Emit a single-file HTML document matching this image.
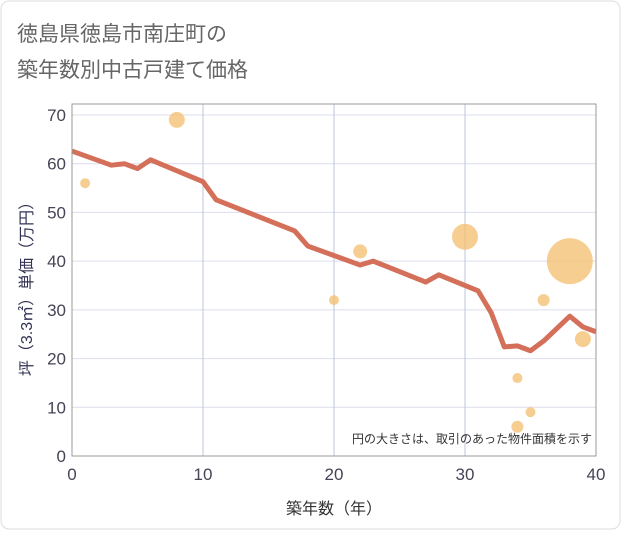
<!DOCTYPE html>
<html><head><meta charset="utf-8"><style>
body{margin:0;background:#fff;}
svg text{font-family:"Liberation Sans","Noto Sans CJK JP",sans-serif;}
</style></head><body>
<svg width="621" height="530">
<rect x="1" y="1" width="619" height="528" rx="8" fill="#fff" stroke="#ddd"/>
<text x="17" y="41" font-size="21" fill="#666">徳島県徳島市南庄町の</text>
<text x="17" y="77" font-size="21" fill="#666">築年数別中古戸建て価格</text>
<g id="plot"></g>
<text x="334" y="514" font-size="16" fill="#333" text-anchor="middle">築年数（年）</text>
<text transform="translate(32,285) rotate(-90)" font-size="16" fill="#335" text-anchor="middle">坪（3.3㎡）単価（万円）</text>
<text x="592" y="443" font-size="12" fill="#333" text-anchor="end">円の大きさは、取引のあった物件面積を示す</text>
</svg>
<script>
const xTicks=[0,10,20,30,40];
const yTicks=[0,10,20,30,40,50,60,70];
const lineX=[0,3,4,5,6,10,11,17,18,22,23,27,28,31,32,33,34,35,36,38,39,40];
const lineY=[62.6,59.7,60,59,60.8,56.3,52.6,46.2,43.1,39.2,40,35.7,37.2,33.9,29.4,22.4,22.6,21.6,23.6,28.7,26.5,25.5];
const bubX=[1,8,20,22,30,34,34,35,36,38,39];
const bubY=[56,69,32,42,45,16,6,9,32,40,24];
const bubR=[5,8,5,7,13,5,6,5,6,23,8];
const L=72,R=596,T=104,B=456;
const sx=v=>L+(v-0)/40*(R-L);
const sy=v=>B-v/70*(B-115);
const NS='http://www.w3.org/2000/svg';
const g=document.getElementById('plot');
function mk(t,a){const e=document.createElementNS(NS,t);for(const k in a)e.setAttribute(k,a[k]);g.appendChild(e);return e;}
let bg=mk('rect',{x:L,y:T,width:R-L,height:B-T,fill:'#fff',stroke:'#999'});


yTicks.forEach(v=>{
 let l=mk('line',{x1:L,x2:R,y1:sy(v),y2:sy(v),stroke:'#dde'});
 
 
 let t=mk('text',{x:L-6,y:sy(v)+6,'font-size':17,fill:'#445','text-anchor':'end'});t.textContent=v;
 
 
});
xTicks.forEach(v=>{
 let l=mk('line',{x1:sx(v),x2:sx(v),y1:T,y2:B,stroke:'#bcc5d5'});
 
 
 let t=mk('text',{x:sx(v),y:B+24,'font-size':17,fill:'#445','text-anchor':'middle'});t.textContent=v;
 
 
});
bubX.forEach((v,i)=>{
 let c=mk('circle',{cx:sx(v),cy:sy(bubY[i]),r:bubR[i],fill:'rgba(244,190,110,0.75)'});
 
 
});
let p=mk('polyline',{points:lineX.map((v,i)=>sx(v)+','+sy(lineY[i])).join(' '),fill:'none',stroke:'#d4705a','stroke-width':5,'stroke-linejoin':'round'});


let f=mk('rect',{x:L,y:T,width:R-L,height:B-T,fill:'none',stroke:'#999'});


</script>
</body></html>
